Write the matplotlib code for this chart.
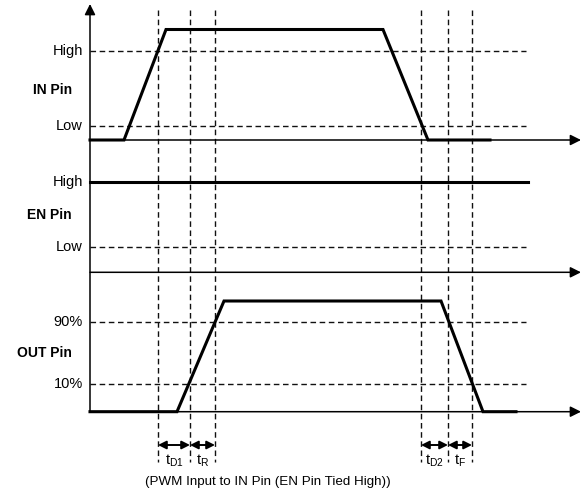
import matplotlib.pyplot as plt
import matplotlib as mpl

mpl.rcParams['font.family'] = ['Liberation Sans', 'DejaVu Sans']
mpl.rcParams['mathtext.default'] = 'regular'

# diagram coordinates (pixel-like units, y grows downward)
x0 = 90          # time axis origin
x_end = 581      # arrow tip of time axes
x_dash_end = 526

# IN pin trace
in_t = [90, 124, 166, 383, 428, 490]
in_v = [140, 140, 29.5, 29.5, 140, 140]
# EN pin trace (tied high)
en_t = [90, 528]
en_v = [182, 182]
# OUT pin trace
out_t = [90, 177, 224, 441, 483, 516]
out_v = [411.7, 411.7, 301, 301, 411.7, 411.7]

# baselines of each panel
baselines = [140, 272.3, 411.7]

# threshold levels (y position, label)
levels = [51, 126, 246.7, 322.3, 384]
level_labels = ['High', 'Low', 'Low', '90%', '10%']
en_high_label_y = 182

pin_names = ['IN Pin', 'EN Pin', 'OUT Pin']
pin_name_y = [90, 215, 353]

# timing markers
marks = [158, 190, 215, 421, 448, 472]
spans = [(158, 190), (190, 215), (421, 448), (448, 472)]
span_labels = [r't$_{D1}$', r't$_{R}$', r't$_{D2}$', r't$_{F}$']
caption = '(PWM Input to IN Pin (EN Pin Tied High))'

fig = plt.figure(figsize=(5.81, 4.95), dpi=100)
ax = fig.add_axes([0, 0, 1, 1])
ax.set_xlim(0, 581)
ax.set_ylim(495, 0)
ax.axis('off')

dash = (0, (4, 2.6))

# vertical dashed markers
for m in marks:
    ax.plot([m, m], [10, 462], ls=dash, color='#111111', lw=1.0)

# horizontal threshold lines
for y in levels:
    ax.plot([x0, x_dash_end], [y, y], ls=dash, color='#111111', lw=1.0)

# y axis with arrow
ax.annotate('', xy=(x0, 4), xytext=(x0, 412),
            arrowprops=dict(arrowstyle='-|>', color='k', lw=1.1,
                            mutation_scale=16, shrinkA=0, shrinkB=0))
# time axes
for b in baselines:
    ax.annotate('', xy=(x_end, b), xytext=(x0, b),
                arrowprops=dict(arrowstyle='-|>', color='k', lw=1.1,
                                mutation_scale=16, shrinkA=0, shrinkB=0))

# signal traces
ax.plot(in_t, in_v, color='k', lw=2.2, solid_joinstyle='miter')
ax.plot(en_t, en_v, color='k', lw=2.2)
ax.plot(out_t, out_v, color='k', lw=2.2, solid_joinstyle='miter')

# level labels
for y, lab in zip(levels, level_labels):
    ax.text(83, y, lab, ha='right', va='center', fontsize=10.5)
ax.text(83, en_high_label_y, 'High', ha='right', va='center', fontsize=10.5)

for y, lab in zip(pin_name_y, pin_names):
    ax.text(72, y, lab, ha='right', va='center', fontsize=10, fontweight='bold')

# timing spans
for (a, b), lab in zip(spans, span_labels):
    ax.annotate('', xy=(b, 445), xytext=(a, 445),
                arrowprops=dict(arrowstyle='<|-|>', color='k', lw=1.4,
                                mutation_scale=12, shrinkA=0, shrinkB=0))
    ax.text((a + b) / 2, 461, lab, ha='center', va='center', fontsize=10.5)

ax.text(268, 482, caption, ha='center', va='center', fontsize=9.6)

fig.savefig('out.png', dpi=100)
